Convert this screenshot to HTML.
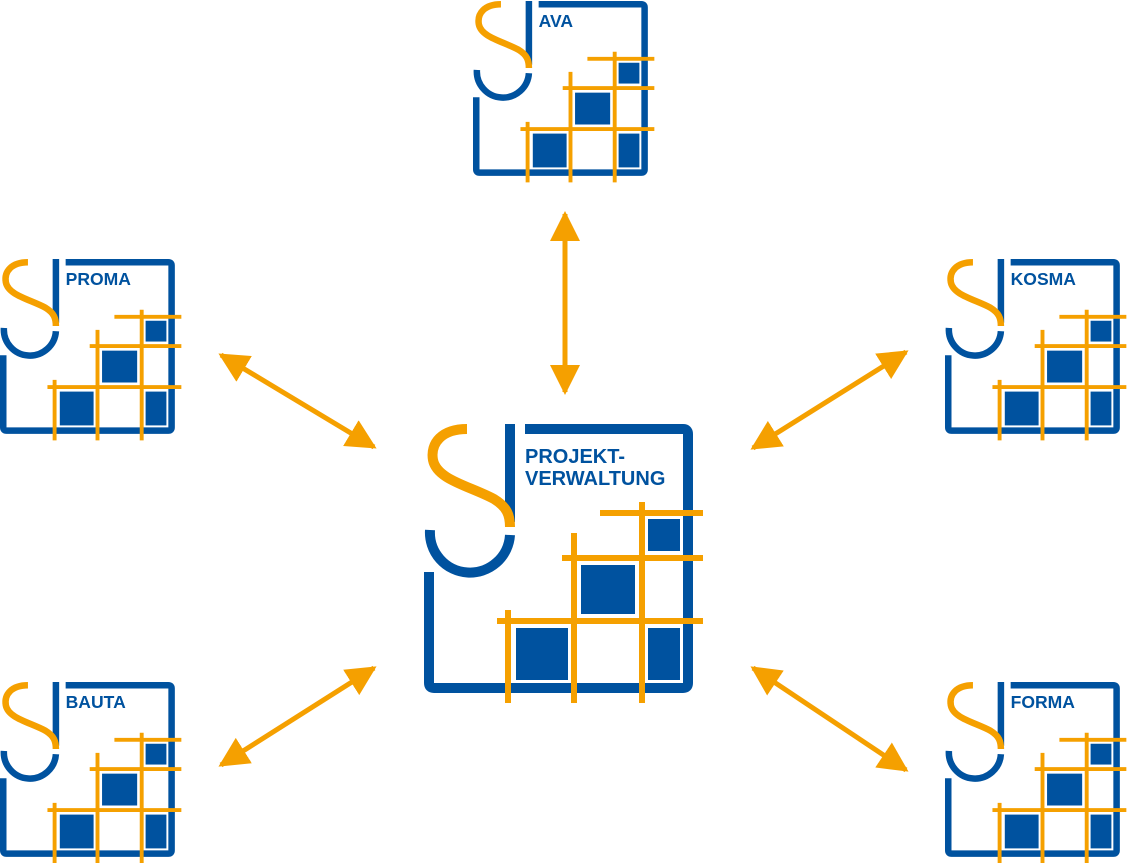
<!DOCTYPE html>
<html><head><meta charset="utf-8"><style>html,body{margin:0;padding:0;background:#fff}svg{display:block}</style></head>
<body>
<svg width="1127" height="863" viewBox="0 0 1127 863" xmlns="http://www.w3.org/2000/svg">
<defs>
<g id="logo" transform="translate(-424,-424)">
  <g fill="none" stroke-linecap="butt">
    <path d="M429 572 V683 Q429 688 434 688 H683 Q688 688 688 683 V434 Q688 429 683 429 H525" stroke="#00529F" stroke-width="10"/>
    <path d="M510 424 V522" stroke="#00529F" stroke-width="10"/>
    <path d="M510 535 A40 40 0 0 1 430 530" stroke="#00529F" stroke-width="10"/>
    <path d="M467 429 C442 429 430 443 433 460 C437 480 470 486 494 499 C507 507 510 515 510 527" stroke="#F5A000" stroke-width="10"/>
    <g stroke="#F5A000" stroke-width="6">
      <path d="M600 513 H703 M562 558 H703 M497 621 H703 M508 610 V703 M574 533 V703 M642 502 V703"/>
    </g>
  </g>
  <g fill="#00529F">
    <rect x="648" y="519" width="32" height="32"/>
    <rect x="581" y="565" width="54" height="49"/>
    <rect x="516" y="628" width="52" height="52"/>
    <rect x="648" y="628" width="32" height="52"/>
  </g>
</g>
<marker id="ah" viewBox="0 0 10 10" refX="9" refY="5" markerWidth="6" markerHeight="6" orient="auto-start-reverse" markerUnits="strokeWidth"><path d="M0 0 L10 5 L0 10 z" fill="#F5A000"/></marker>
</defs>
<g font-family="'Liberation Sans',sans-serif" font-weight="bold" fill="#00529F">
<g transform="translate(424,424)"><use href="#logo"/>
<text x="101" y="39" font-size="20">PROJEKT-</text><text x="101" y="61" font-size="20">VERWALTUNG</text></g>
<g transform="translate(473,1) scale(0.65)"><use href="#logo"/><text x="101" y="40" font-size="27">AVA</text></g>
<g transform="translate(0,259) scale(0.65)"><use href="#logo"/><text x="101" y="40" font-size="27">PROMA</text></g>
<g transform="translate(945,259) scale(0.65)"><use href="#logo"/><text x="101" y="40" font-size="27">KOSMA</text></g>
<g transform="translate(0,682) scale(0.65)"><use href="#logo"/><text x="101" y="40" font-size="27">BAUTA</text></g>
<g transform="translate(945,682) scale(0.65)"><use href="#logo"/><text x="101" y="40" font-size="27">FORMA</text></g>
</g>
<g stroke="#F5A000" stroke-width="5" marker-start="url(#ah)" marker-end="url(#ah)">
<line x1="565" y1="214" x2="565" y2="392"/>
<line x1="221" y1="355" x2="374" y2="447"/>
<line x1="906" y1="352" x2="753" y2="448"/>
<line x1="221" y1="765" x2="374" y2="668"/>
<line x1="906" y1="770" x2="753" y2="668"/>
</g>
</svg>
</body></html>
